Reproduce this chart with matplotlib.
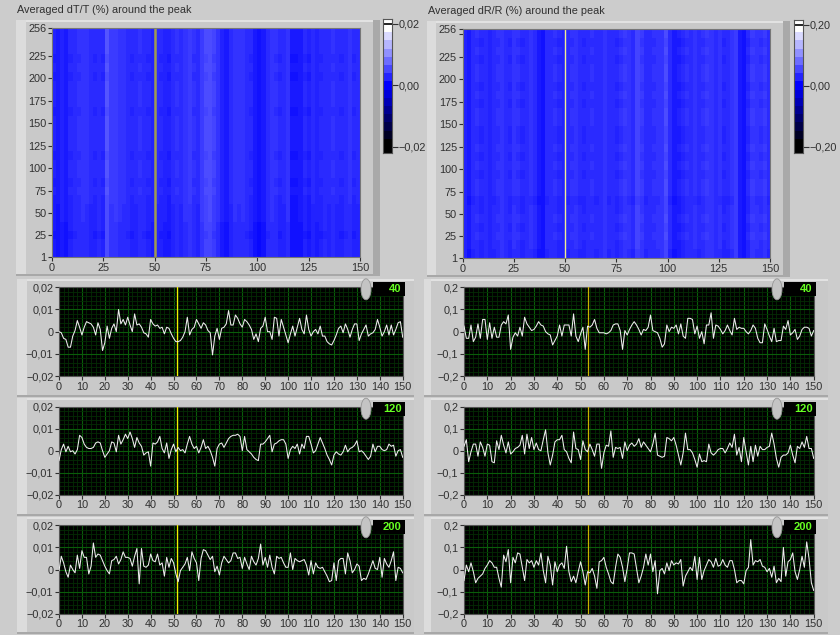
"""Front panel with two averaged intensity maps and six row traces."""
import numpy as np
import matplotlib
matplotlib.use("Agg")
import matplotlib.pyplot as plt
from matplotlib.colors import LinearSegmentedColormap
from matplotlib.patches import Rectangle, Ellipse

plt.rcParams.update({"font.family": ["Liberation Sans", "DejaVu Sans"], "font.size": 7.8,
                     "text.color": "#303030", "xtick.labelcolor": "#303030", "ytick.labelcolor": "#303030"})

W, H = 840, 635

# traces, dT/T in units of 0.01
t40 = [0, -.05, -.3, -.35, -.7, -.7, -.2, .05, .5, .2,
       -.15, .2, .45, .4, .35, .2, -.15, .4, .1, -.85,
       -.5, .25, -.3, .15, .35, 0, 1.0, .35, .55, .3,
       .65, .3, 0, .8, .3, .35, .2, -.05, -.1, -.25,
       .55, .35, .25, .3, .15, .2, -.1, .2, .15, -.1,
       -.3, -.45, -.45, -.4, -.25, 0, .65, -.15, .1, .2,
       .55, .35, .15, .4, .3, .05, -.05, -1.05, -.2, .15,
       -.35, .15, .2, .35, .95, .3, .3, .75, .6, .35,
       .2, .55, .45, .3, .1, -.35, -.1, -.45, .15, .25,
       .65, 0, 0, -.35, .65, .6, -.2, .55, .2, -.15,
       -.5, -.1, .25, -.2, .2, .6, .1, -.1, .75, .1,
       -.2, 0, .1, -.1, .25, -.2, -.2, -.45, -.55, -.6,
       -.4, -.15, .15, .25, -.05, .35, .1, -.25, .1, .35,
       .35, -.4, -.1, .1, .3, -.2, -.1, -.05, .1, .55,
       .2, -.2, 0, .3, -.15, .3, -.15, .1, .4, .45, -.25]
t120 = [-.45, .05, .3, -.05, .2, -.05, 0, -.15, .05, .7,
        .6, .3, .15, .1, .1, .15, .35, .4, .35, 0,
        -.3, -.15, 0, .4, .35, -.05, .7, .3, .5, .75,
        .55, .85, .55, .15, .6, .35, .2, -.2, -.1, -.05,
        -.7, .35, .3, .4, .65, .1, -.1, .35, -.35, .05,
        .3, -.05, .15, 0, .05, -.1, .3, .65, .3, .1,
        .2, -.1, .15, .5, .1, .2, 0, -.3, -.7, .1,
        .3, .35, .15, .35, .55, .65, .7, .7, .75, .65,
        0, .65, .05, -.05, -.15, -.3, -.4, -.45, .3, .3,
        .4, .55, .7, -.05, .3, .35, .45, .5, .5, .3,
        -.35, .05, .2, .1, .3, -.15, .3, .1, .65, .65,
        .3, -.1, 0, .3, .6, .35, .1, -.2, -.4, -.65,
        -.2, -.05, -.15, -.2, -.05, .25, -.05, .1, .15, .25,
        .45, -.05, 0, -.1, -.25, -.4, -.25, .3, -.05, .2,
        .2, .05, 0, .05, .3, .2, .25, -.25, 0, .05, -.3]
t200 = [-.05, .6, .3, -.1, -.35, .2, 0, -.15, .65, .05,
        .85, .55, .55, -.2, .15, 1.2, .55, .7, .65, .4,
        .15, -.05, -.2, .4, .45, .6, .25, .45, .8, .55,
        .55, .5, .15, .6, .95, -.65, .95, .15, .1, .2,
        .7, .4, .35, .7, .2, .3, -.3, .55, .1, .5,
        .3, -.2, -.55, -.05, .1, .25, .55, -.05, .8, .5,
        .3, -.5, .5, .9, .85, .65, .45, .6, -.1, .15,
        -.25, .3, .6, .45, .3, .4, .75, .75, .5, .55,
        .05, .55, .25, 0, .6, .35, .2, .5, 1.15, .2,
        .55, .1, .65, .1, -.2, .6, .5, .55, .3, .1,
        .1, .75, 0, .5, .4, .35, .4, .45, .2, -.25,
        .4, -.2, .3, .1, .05, .1, -.1, -.3, -.55, -.5,
        .3, -.5, .4, .5, .5, -.2, .75, .4, -.15, 0,
        .25, .15, -.5, -.4, -.45, -.2, .1, .4, .05, 0,
        .55, -.35, .5, .25, .1, .4, .8, -.5, .1, .05, -.15]

# traces, dR/R in units of 0.1
r40 = [.25, -.3, -.3, .3, -.45, -.25, .35, -.3, .55, .55,
       -.35, .4, -.3, .2, -.25, -.25, .3, .45, .35, .75,
       -.8, -.25, -.05, -.2, .2, -.2, .65, .35, .2, .05,
       .1, .25, .45, .3, .25, 0, -.1, -.15, -.6, -.4,
       -.2, .3, -.2, .3, .3, .3, -.2, .8, -.2, -.45,
       -.1, .2, -.8, .25, .2, .3, .55, .15, -.05, -.05,
       -.05, -.1, -.05, .05, .3, .35, .35, .05, -.8, .05,
       -.15, .1, .3, .45, .3, .1, -.15, .1, .05, .2,
       .75, .05, 0, -.05, -.3, -.7, -.55, .3, 0, .2,
       .15, .3, -.1, .35, -.2, -.3, .6, .6, .55, -.1,
       .25, -.3, 0, -.55, .3, .3, .85, -.3, .3, .25,
       .1, -.1, .05, .3, .05, -.15, .6, .1, .2, .15,
       .15, 0, -.1, .05, .3, .15, -.3, -.5, -.5, .35,
       .1, -.2, -.45, .15, -.45, -.4, -.4, .25, .1, .5,
       -.15, -.05, .1, -.35, -.2, .1, .2, .2, .15, -.2, .05]
r120 = [.2, .5, -.5, -.05, .3, .3, -.25, .4, .15, -.25,
        .3, .25, -.5, -.55, .45, .05, .7, .25, -.1, .4,
        -.15, -.05, .1, .15, .25, .7, -.15, .75, .1, .6,
        .05, .35, .05, 0, .5, .95, -.1, -.65, -.2, .4,
        .5, .5, .7, .05, -.05, -.35, -.55, .85, .1, .05,
        -.4, .45, .05, -.05, .3, .05, -.25, .3, .3, -.8,
        -.1, .25, .2, .9, -.3, .15, .1, .15, -.35, .4,
        0, .25, .35, .2, .3, .55, .15, .4, .25, .1,
        -.05, .3, .8, -.2, -.25, -.3, -.25, .6, .55, .45,
        .6, .25, -.2, -.65, -.1, .8, .05, .05, -.1, -.4,
        -.75, -.15, -.5, -.45, -.5, .3, -.1, -.2, -.1, .05,
        .1, .1, -.1, .1, .35, .15, .75, -.2, .15, -.5,
        .6, -.05, -.65, .2, -.5, .25, -.25, .2, .05, .05,
        .15, .2, .8, .3, -.35, -.75, -.3, -.2, -.2, -.1,
        .25, -.2, -.55, .2, .1, .4, .15, .65, .1, .1, -.35]
r200 = [-.5, .2, -.1, .3, -.1, -.6, -.4, -.3, -.2, .05,
        .2, .4, .3, .1, .1, -.4, -.8, .65, .35, .9,
        -.6, .55, .3, .75, .7, .1, -.5, .45, .3, .4,
        .1, .4, .2, .75, -.05, -.6, .6, .2, -.7, .35,
        -.1, .2, .3, .05, 1.05, -.1, -.55, -.3, -.6, -.1,
        .35, -.1, -.7, -.1, -.15, .05, -.3, -.85, .35, .4,
        .55, .1, -.2, -.55, -.65, .1, .7, .55, .1, -.55,
        .05, .75, .75, .7, .05, -.6, -.3, .1, .7, .2,
        .7, -.1, .4, -1.1, -.05, .05, -.2, .3, -.05, .4,
        .2, .3, .25, .45, -.75, -.3, -.1, .1, -.05, .6,
        -.45, .55, -.45, -.05, .2, .45, .35, .1, .5, .15,
        .2, .45, .2, .1, .4, .4, 0, -.6, -.5, -.5,
        -.65, -.05, .1, 1.35, .2, .4, .35, .45, .15, .1,
        -.1, .05, -.35, .15, -.6, -.4, -.55, 1.0, -.3, .35,
        .45, .75, -.1, -.45, 0, .6, .1, 1.25, .5, -.6, -.95]

# map brightness per two columns, fraction of the colour range
col_t = [.11, .09, .13, .1, .14, .17, .18, .2, .19, .15, .14, .17, .14, .31, .22,
         .23, .2, .19, .17, .14, .15, .18, .17, .14, .13, .15, .14, .13, .11, .15,
         .18, .15, .2, .22, .18, .15, .23, .27, .29, .24, .2, .13, .1, .15, .2,
         .19, .2, .17, .14, .1, .06, .1, .17, .2, .18, .14, .15, .2, .08, .08,
         .1, .14, .11, .15, .13, .14, .17, .15, .18, .15, .14, .17, .19, .14, .15]
col_r = [.13, .09, .15, .18, .14, .17, .13, .15, .18, .2, .17, .14, .19, .18, .14,
         .17, .19, .15, .09, .07, .15, .17, .18, .14, .13, .15, .18, .19, .15, .14,
         .17, .18, .15, .17, .2, .15, .17, .14, .18, .21, .19, .15, .25, .21, .15,
         .17, .18, .19, .2, .27, .15, .09, .11, .14, .18, .17, .19, .15, .18, .21,
         .2, .17, .19, .14, .15, .19, .23, .1, .07, .14, .21, .19, .18, .21, .15]
# offset per 10 rows, bottom row first
row_t = [-.02, -.02, -.03, -.02, -.01, -.01, 0, .01, 0, .01, .01, 0, .01,
         .01, .01, .01, 0, .01, .01, .01, 0, .01, 0, .01, .01, .01]
row_r = [-.01, 0, .01, 0, .01, 0, -.01, .01, .01, 0, .01, 0, .01,
         0, 0, .01, .01, 0, .01, 0, .01, .01, 0, .01, 0, .01]

heat_x_ticks = [0, 25, 50, 75, 100, 125, 150]
heat_y_ticks = [1, 25, 50, 75, 100, 125, 150, 175, 200, 225, 256]
trace_x_ticks = list(range(0, 151, 10))
titles = ["Averaged dT/T (%) around the peak", "Averaged dR/R (%) around the peak"]
row_names = ["40", "120", "200"]
scale_labels = [["0,02", "0,00", "\u22120,02"], ["0,20", "0,00", "\u22120,20"]]
y_labels = [["\u22120,02", "\u22120,01", "0", "0,01", "0,02"],
            ["\u22120,2", "\u22120,1", "0", "0,1", "0,2"]]

BG = "#cccccc"
cmap_img = LinearSegmentedColormap.from_list("ramp", ["black", "#0000ff", "white"], N=61)
cmap_bar = LinearSegmentedColormap.from_list("ramp_bar", ["black", "#0000ff", "white"], N=15)

fig = plt.figure(figsize=(W / 100, H / 100), dpi=100, facecolor=BG)


def px_axes(x0, y0, x1, y1):
    return fig.add_axes([x0 / W, 1 - y1 / H, (x1 - x0) / W, (y1 - y0) / H])


def box(x0, y0, x1, y1, color, z=0):
    fig.add_artist(Rectangle((x0 / W, 1 - y1 / H), (x1 - x0) / W, (y1 - y0) / H,
                             transform=fig.transFigure, fc=color, ec="none", zorder=z))


def panel(x0, y0, x1, y1, strip=10):
    box(x0, y0, x1, y1, "#c9c9c9", -5)
    box(x0, y0, x1, y0 + 2, "#e2e2e2", -4)
    box(x0, y0, x0 + strip, y1, "#dcdcdc", -4)
    box(x0, y1 - 2, x1, y1, "#a8a8a8", -4)


def heat_panel(x0, y0, x1, y1, bar_x, bar_y, col, row, cursor, title, labels):
    panel(x0 - 36, y0 - 8, x1 + 13, y1 + 19)
    box(x1 + 13, y0 - 8, x1 + 20, y1 + 19, "#a9a9a9", -4)
    ax = px_axes(x0, y0, x1, y1)
    img = np.array(col)[None, :] + np.array(row)[:, None]
    ax.imshow(img, origin="lower", extent=(0, 150, 1, 256), aspect="auto",
              cmap=cmap_img, vmin=-1, vmax=1, interpolation="nearest")
    ax.axvline(50, color=cursor[0], lw=cursor[1])
    ax.set_xticks(heat_x_ticks)
    ax.set_yticks(heat_y_ticks)
    ax.set_yticks([250], minor=True)
    ax.tick_params(which="both", length=3, width=0.8, pad=1, color="#303030")
    for s in ax.spines.values():
        s.set_color("#777777")
    fig.text((x0 - 35) / W, 1 - (y0 - 18) / H, title, fontsize=7.8, va="center")

    bar = px_axes(bar_x[0], bar_y[0], bar_x[1], bar_y[1])
    bar.set_facecolor("black")
    bar.imshow(np.linspace(1, -1, 15)[:, None], extent=(0, 1, -1, 1), aspect="auto",
               cmap=cmap_bar, vmin=-1, vmax=1, interpolation="nearest")
    bar.set_ylim(-1.10, 1.08)
    bar.axhspan(1, 1.08, color="white", lw=0)
    bar.axhline(1, color="black", lw=1.2)
    bar.set_xticks([])
    bar.yaxis.tick_right()
    bar.set_yticks([1, 0, -1])
    bar.set_yticklabels(labels)
    bar.tick_params(length=4, width=0.8, pad=1, color="#303030")
    for s in bar.spines.values():
        s.set_color("#555555")


def trace_panel(x0, y0, x1, y1, values, cursor, cursor_col, labels, name, knob_x):
    ax = px_axes(x0, y0, x1, y1)
    ax.set_facecolor("black")
    ax.set_xlim(0, 150)
    ax.set_ylim(-2, 2)
    ax.set_xticks(trace_x_ticks)
    ax.set_xticks(np.arange(0, 151, 2), minor=True)
    ax.set_yticks([-2, -1, 0, 1, 2])
    ax.set_yticks(np.arange(-2, 2.01, 0.2), minor=True)
    ax.set_yticklabels(labels)
    ax.grid(which="minor", color="#042c04", lw=0.6)
    ax.grid(which="major", color="#0a5c0a", lw=0.8)
    ax.set_axisbelow(True)
    ax.tick_params(which="major", length=3, width=0.8, pad=1, color="#303030")
    ax.tick_params(which="minor", length=0)
    ax.axvline(cursor, color=cursor_col, lw=0.9, zorder=3)
    ax.plot(np.arange(len(values)), values, color="#eeeeee", lw=0.75, zorder=4)
    for s in ax.spines.values():
        s.set_color("#555555")

    # slider knob and numeric readout
    fig.add_artist(Ellipse((knob_x / W, 1 - (y0 + 2) / H), 10 / W, 21 / H, transform=fig.transFigure,
                           fc="#c4c4c4", ec="#969696", lw=0.6, zorder=6))
    box(knob_x + 7, y0 - 5, x1 + 2, y0 + 9, "black", 6)
    fig.text((x1 - 1) / W, 1 - (y0 + 2) / H, name, color="#66ff22", fontsize=8, fontweight="bold",
             ha="right", va="center", zorder=7)


heat_panel(52, 28, 360, 257, (383, 392), (19, 153), col_t, row_t, ("#a09a50", 1.8),
           titles[0], scale_labels[0])
heat_panel(462.5, 29, 770, 258, (794, 803), (20, 153), col_r, row_r, ("#f2ee90", 1.0),
           titles[1], scale_labels[1])

rows_y = [(287.3, 376), (406.7, 494.7), (525.3, 613.7)]
panel_y = [(279, 397), (398, 516), (517, 634)]
for (py0, py1) in panel_y:
    panel(17, py0, 414, py1)
    panel(424, py0, 828, py1, strip=7)
for (y0, y1), t, r, name in zip(rows_y, [t40, t120, t200], [r40, r120, r200], row_names):
    trace_panel(59, y0, 402.7, y1, t, 51.7, "#f4f000", y_labels[0], name, 366)
    trace_panel(464, y0, 813.7, y1, r, 53.2, "#c9b400", y_labels[1], name, 777)

fig.savefig("out.png", dpi=100, facecolor=BG)
